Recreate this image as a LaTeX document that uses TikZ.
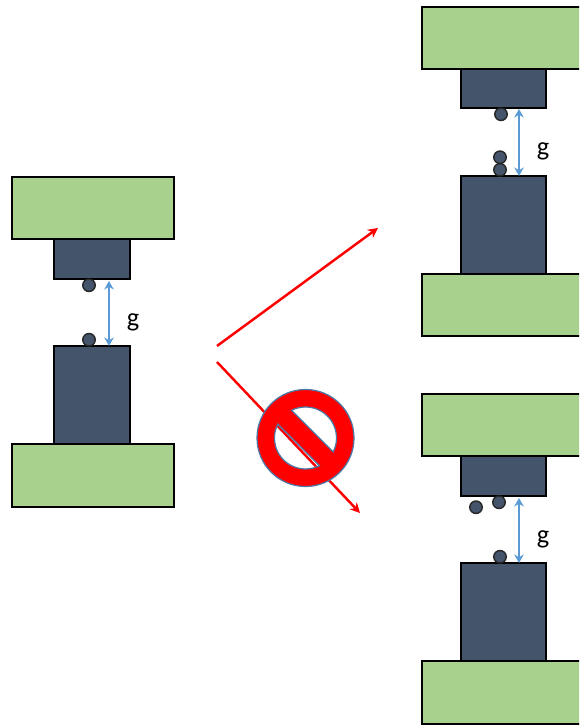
\documentclass[tikz,border=0pt]{standalone}
\usepackage{fontspec}
\setmainfont{Carlito}
\usetikzlibrary{arrows.meta,positioning,calc}
\definecolor{platefill}{HTML}{A9D18E}
\definecolor{diefill}{HTML}{44546A}
\definecolor{gapblue}{HTML}{5B9BD5}
\definecolor{signedge}{HTML}{4A7AA8}

\begin{document}
\begin{tikzpicture}[
    plate/.style={rectangle, draw=black, fill=platefill, line width=0.75pt, minimum width=3.24cm, minimum height=1.24cm, inner sep=0, outer sep=0},
    die/.style={rectangle, draw=black, fill=diefill, line width=0.75pt, minimum width=1.7cm, inner sep=0, outer sep=0},
    bump/.style={circle, draw=black!85, fill=diefill, line width=0.8pt, minimum size=0.25cm, inner sep=0, outer sep=0},
    gaparrow/.style={{Stealth[length=1.7mm,width=1.9mm]}-{Stealth[length=1.7mm,width=1.9mm]}, gapblue, line width=1.5pt},
    gaplabel/.style={midway, right=0.33cm, yshift=-0.17cm, font=\fontsize{15}{18}\selectfont, inner sep=0},
    redarrow/.style={-{Stealth[length=2mm,width=2mm]}, red, line width=1.4pt}
]
\useasboundingbox (0,0) rectangle (11.58,14.5);
\clip (0,0) rectangle (11.58,14.5);

% Left stack
\node[plate] (plateA) at (1.86,10.34) {};
\node[die, below=0cm of plateA, minimum width=1.52cm, minimum height=0.8cm, xshift=-0.02cm] (dieA) {};
\node[die, below=1.34cm of dieA, minimum width=1.52cm, minimum height=1.96cm] (postA) {};
\node[plate, below=0cm of postA, xshift=0.02cm, minimum height=1.26cm] (baseA) {};
\node[bump, below=0cm of dieA, xshift=-0.06cm] (bumpA) {};
\node[bump, above=0cm of postA, xshift=-0.06cm] (ballA) {};

% Upper right stack
\node[plate] (plateB) at (10.06,13.74) {};
\node[die, below=0cm of plateB, minimum height=0.78cm, xshift=0.01cm] (dieB) {};
\node[die, below=1.36cm of dieB, minimum height=1.96cm] (postB) {};
\node[plate, below=0cm of postB, xshift=-0.01cm, minimum height=1.24cm] (baseB) {};
\node[bump, below=0cm of dieB, xshift=-0.05cm] (bumpB) {};
\node[bump, above=0cm of postB, xshift=-0.07cm] (ballB) {};
\node[bump, above=0cm of ballB] (ballC) {};

% Lower right stack
\node[plate] (plateC) at (10.06,6) {};
\node[die, below=0cm of plateC, minimum height=0.8cm, xshift=0.01cm] (dieC) {};
\node[die, below=1.34cm of dieC, minimum height=1.96cm] (postC) {};
\node[plate, below=0cm of postC, xshift=-0.01cm, minimum height=1.26cm] (baseC) {};
\node[bump, below=0cm of dieC, xshift=-0.09cm] (bumpC) {};
\node[bump, below=0.1cm of dieC, xshift=-0.55cm] (looseC) {};
\node[bump, above=0cm of postC, xshift=-0.07cm] (ballD) {};

% Gap arrows
\draw[gaparrow] ([xshift=0.34cm,yshift=-0.04cm]dieA.south) -- ([xshift=0.34cm]postA.north) node[gaplabel, text=black]{g};
\draw[gaparrow] ([xshift=0.31cm,yshift=-0.02cm]dieB.south) -- ([xshift=0.31cm]postB.north) node[gaplabel, text=black]{g};
\draw[gaparrow] ([xshift=0.31cm,yshift=-0.04cm]dieC.south) -- ([xshift=0.31cm]postC.north) node[gaplabel, text=black]{g};

% Red arrows
\coordinate (startUp) at (4.34,7.58);
\coordinate (endUp) at (7.56,9.94);
\coordinate (startDown) at (4.34,7.26);
\coordinate (endDown) at (7.2,4.24);
\draw[redarrow] (startUp) -- (endUp);
\draw[redarrow] (startDown) -- (endDown);

% Prohibition sign
\coordinate (nosign) at (6.11,5.74);
\draw[signedge, fill=red, even odd rule, line width=0.7pt] (nosign) circle (0.97)
    ($(nosign)+(-26.6:0.62)$) arc[start angle=-26.6, end angle=116.6, radius=0.62] -- cycle
    ($(nosign)+(153.4:0.62)$) arc[start angle=153.4, end angle=296.6, radius=0.62] -- cycle;

\end{tikzpicture}
\end{document}
